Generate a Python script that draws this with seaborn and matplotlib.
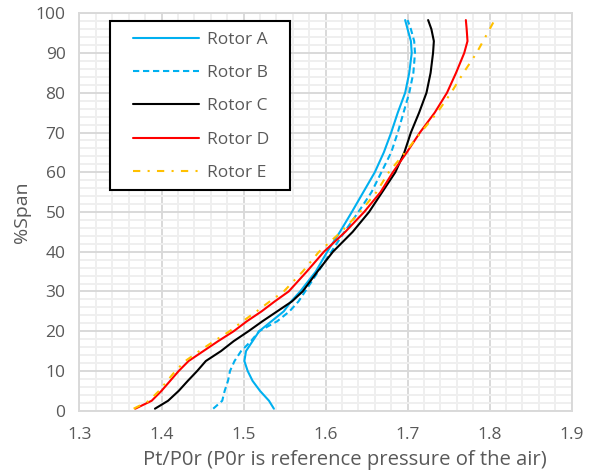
import numpy as np
import pandas as pd
import matplotlib
matplotlib.use("Agg")
import matplotlib.pyplot as plt
from matplotlib.patches import Rectangle
from matplotlib.ticker import MultipleLocator
import seaborn as sns

# Spanwise positions (% span) shared by all rotors
span = [0.5, 2.5, 5, 7.5, 10, 12.5, 15, 17.5, 20, 22.5, 25, 27.5, 30, 35, 40,
        45, 50, 55, 60, 65, 70, 75, 80, 85, 90, 93, 96, 98.3]

# Total pressure ratio Pt/P0r for each rotor
rotor_a = [1.537, 1.531, 1.520, 1.511, 1.505, 1.501, 1.503, 1.511, 1.519, 1.534,
           1.549, 1.558, 1.569, 1.588, 1.602, 1.6175, 1.632, 1.646, 1.660, 1.671,
           1.680, 1.688, 1.697, 1.702, 1.705, 1.704, 1.700, 1.697]
rotor_b = [1.463, 1.474, 1.477, 1.481, 1.4835, 1.489, 1.497, 1.509, 1.519, 1.541,
           1.556, 1.567, 1.575, 1.591, 1.607, 1.623, 1.640, 1.656, 1.668, 1.680,
           1.688, 1.695, 1.702, 1.707, 1.709, 1.708, 1.704, 1.700]
rotor_c = [1.392, 1.408, 1.421, 1.432, 1.4435, 1.454, 1.4725, 1.488, 1.506, 1.523,
           1.541, 1.559, 1.572, 1.590, 1.609, 1.633, 1.653, 1.669, 1.685, 1.696,
           1.704, 1.714, 1.723, 1.728, 1.731, 1.732, 1.729, 1.725]
rotor_d = [1.368, 1.388, 1.400, 1.4105, 1.421, 1.433, 1.451, 1.469, 1.488, 1.504,
           1.522, 1.538, 1.555, 1.577, 1.598, 1.624, 1.647, 1.667, 1.682, 1.699,
           1.715, 1.733, 1.748, 1.759, 1.769, 1.773, 1.772, 1.771]
rotor_e = [1.366, 1.385, 1.397, 1.407, 1.417, 1.429, 1.446, 1.464, 1.483, 1.499,
           1.516, 1.532, 1.549, 1.572, 1.592, 1.619, 1.642, 1.662, 1.677, 1.697,
           1.716, 1.736, 1.753, 1.768, 1.784, 1.792, 1.800, 1.806]

rotor_names = ["Rotor A", "Rotor B", "Rotor C", "Rotor D", "Rotor E"]
x_ticks = [1.3, 1.4, 1.5, 1.6, 1.7, 1.8, 1.9]
y_ticks = [0, 10, 20, 30, 40, 50, 60, 70, 80, 90, 100]

sns.set_style("white")
plt.rcParams["font.family"] = ["Open Sans", "DejaVu Sans"]

text_color = "#595959"
styles = {
    "Rotor A": dict(color="#00b0f0", linestyle="-"),
    "Rotor B": dict(color="#00b0f0", linestyle=(0, (3, 1.8))),
    "Rotor C": dict(color="black", linestyle="-"),
    "Rotor D": dict(color="#ff0000", linestyle="-"),
    "Rotor E": dict(color="#ffc000", linestyle=(0, (3.5, 3.5, 1, 3.5))),
}

frames = []
for name, vals in zip(rotor_names, [rotor_a, rotor_b, rotor_c, rotor_d, rotor_e]):
    frames.append(pd.DataFrame({"span": span, "pr": vals, "rotor": name}))
df = pd.concat(frames, ignore_index=True)

fig = plt.figure(figsize=(5.95, 4.72), dpi=100)
ax = fig.add_axes([0.1336, 0.1299, 0.8272, 0.8419])

for name in rotor_names:
    sub = df[df["rotor"] == name]
    sns.lineplot(data=sub, x="pr", y="span", orient="y", estimator=None,
                 ax=ax, linewidth=1.5, label=name, zorder=3,
                 solid_joinstyle="round", dash_joinstyle="round", **styles[name])

ax.set_xlim(1.3, 1.9)
ax.set_ylim(0, 100)
ax.set_xticks(x_ticks)
ax.set_xticklabels([f"{t:.1f}" for t in x_ticks])
ax.set_yticks(y_ticks)
ax.xaxis.set_minor_locator(MultipleLocator(0.02))
ax.yaxis.set_minor_locator(MultipleLocator(2))
ax.grid(which="minor", color="#efefef", linewidth=1.4)
ax.grid(which="major", color="#d9d9d9", linewidth=1.4)
ax.set_axisbelow(True)
ax.tick_params(which="both", length=0, labelsize=12.5, labelcolor=text_color)
ax.tick_params(axis="x", pad=12)
ax.tick_params(axis="y", pad=10)
for sp in ax.spines.values():
    sp.set_color("#d9d9d9")
    sp.set_linewidth(1.4)

ax.set_xlabel("Pt/P0r (P0r is reference pressure of the air)", fontsize=14.6,
              color=text_color, labelpad=2)
ax.xaxis.set_label_coords(0.540, -0.098)
ax.set_ylabel("%Span", fontsize=14, color=text_color, labelpad=3)

# Legend box drawn separately so the entries can sit inside with wide side margins
box = Rectangle((0.062, 0.555), 0.366, 0.426, transform=ax.transAxes,
                facecolor="white", edgecolor="black", linewidth=1.5, zorder=4)
ax.add_patch(box)
leg = ax.legend(loc="upper left", bbox_to_anchor=(0.109, 0.954), frameon=False,
                fontsize=12.5, labelcolor=text_color, handlelength=3.8,
                handletextpad=0.45, labelspacing=0.99, borderpad=0,
                borderaxespad=0)
leg.set_zorder(5)

fig.savefig("out.png", dpi=100)
